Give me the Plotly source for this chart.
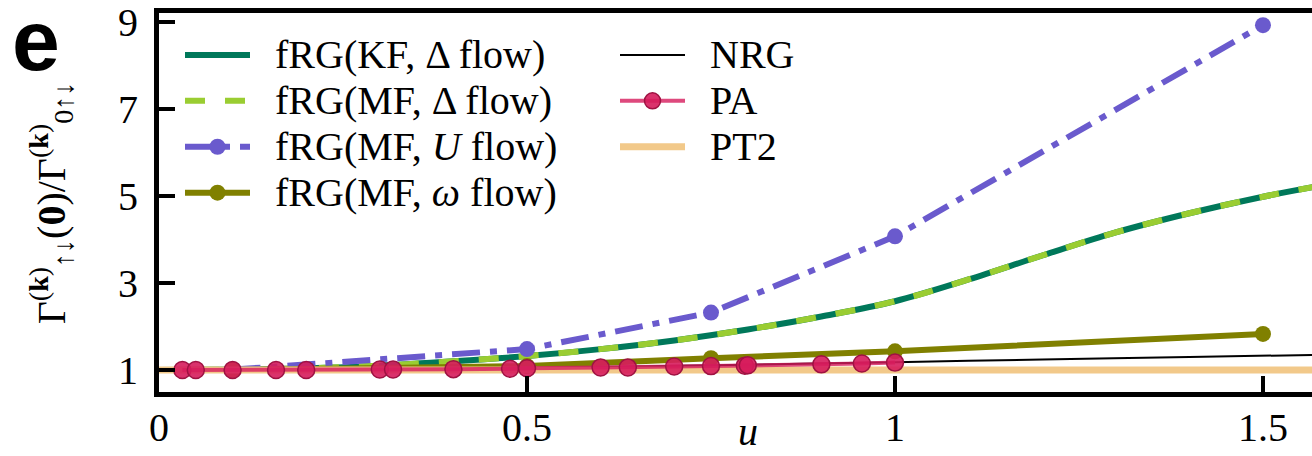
import plotly.graph_objects as go

# interaction strength u
u_kf = [0.0, 0.1, 0.2, 0.3, 0.4, 0.5, 0.6, 0.7, 0.8, 0.9, 1.0, 1.1, 1.2, 1.3, 1.4, 1.5, 1.6]
g_kf = [1.00, 1.01, 1.04, 1.10, 1.20, 1.32, 1.48, 1.68, 1.93, 2.23, 2.58, 3.08, 3.63, 4.16, 4.60, 4.98, 5.30]

u_mf_delta = [0.0, 0.1, 0.2, 0.3, 0.4, 0.5, 0.6, 0.7, 0.8, 0.9, 1.0, 1.1, 1.2, 1.3, 1.4, 1.5, 1.6]
g_mf_delta = [1.00, 1.01, 1.04, 1.10, 1.20, 1.32, 1.48, 1.68, 1.93, 2.23, 2.58, 3.08, 3.63, 4.16, 4.60, 4.98, 5.30]

u_mf_U = [0.1, 0.5, 0.75, 1.0, 1.5]
g_mf_U = [1.01, 1.48, 2.32, 4.07, 8.92]

u_mf_w = [0.1, 0.5, 0.75, 1.0, 1.5]
g_mf_w = [1.00, 1.09, 1.27, 1.43, 1.83]

u_nrg = [0.0, 0.2, 0.4, 0.6, 0.8, 1.0, 1.2, 1.4, 1.6]
g_nrg = [1.00, 1.01, 1.03, 1.07, 1.12, 1.18, 1.24, 1.30, 1.355]

u_pa = [0.0318, 0.05, 0.1, 0.159, 0.2, 0.3, 0.318, 0.4, 0.477, 0.5,
        0.6, 0.637, 0.7, 0.75, 0.796, 0.8, 0.9, 0.955, 1.0]
g_pa = [1.00, 1.00, 1.00, 1.00, 1.00, 1.01, 1.01, 1.02, 1.03, 1.04,
        1.06, 1.06, 1.08, 1.09, 1.10, 1.11, 1.13, 1.15, 1.17]

u_pt2 = [0.0, 0.5, 1.0, 1.5, 1.6]
g_pt2 = [1.0, 1.0, 1.0, 1.0, 1.0]

x_ticks = [0, 0.5, 1, 1.5]
x_ticklabels = ["0", "0.5", "1", "1.5"]
y_ticks = [1, 3, 5, 7, 9]
y_ticklabels = ["1", "3", "5", "7", "9"]

SERIF = "Liberation Serif, Times New Roman, serif"
SANS = "Liberation Sans, Arial, sans-serif"


def entry(label):
    # legend label: a small gap after the symbol, slightly larger type than the row pitch
    return '<span style="font-size:40px">\u2002' + label + '</span>'


fig = go.Figure()

fig.add_trace(go.Scatter(
    x=u_kf, y=g_kf, mode="lines", name=entry("fRG(KF, Δ flow)"),
    line=dict(color="#00785A", width=6, shape="spline"), legend="legend"))
fig.add_trace(go.Scatter(
    x=u_mf_delta, y=g_mf_delta, mode="lines", name=entry("fRG(MF, Δ flow)"),
    line=dict(color="#9ACD32", width=6, dash="20px,20px", shape="spline"), legend="legend"))
fig.add_trace(go.Scatter(
    x=u_mf_U, y=g_mf_U, mode="lines+markers", name=entry("fRG(MF, <i>U</i> flow)"),
    line=dict(color="#6A5ACD", width=6, dash="28px,10px,7px,10px"),
    marker=dict(color="#6A5ACD", size=16), legend="legend"))
fig.add_trace(go.Scatter(
    x=u_mf_w, y=g_mf_w, mode="lines+markers", name=entry("fRG(MF, <i>ω</i> flow)"),
    line=dict(color="#808000", width=6),
    marker=dict(color="#808000", size=16), legend="legend"))
fig.add_trace(go.Scatter(
    x=u_nrg, y=g_nrg, mode="lines", name=entry("NRG"), legendrank=1,
    line=dict(color="black", width=2, shape="spline"), legend="legend2"))
fig.add_trace(go.Scatter(
    x=u_pt2, y=g_pt2, mode="lines", name=entry("PT2"), legendrank=3,
    line=dict(color="#F2C98A", width=7), legend="legend2"))
fig.add_trace(go.Scatter(
    x=u_pa, y=g_pa, mode="lines+markers", name=entry("PA"), legendrank=2,
    line=dict(color="rgba(214,28,92,0.8)", width=4),
    marker=dict(color="rgba(214,28,92,0.9)", size=17,
                line=dict(color="#9E1242", width=1.5)),
    legend="legend2"))

axis_common = dict(
    showgrid=False, zeroline=False, showline=True, linecolor="black", linewidth=5,
    ticks="inside", ticklen=16, tickwidth=4, tickcolor="black",
    tickfont=dict(family=SERIF, size=40, color="black"),
    ticklabeloverflow="allow",
)

legend_common = dict(
    xref="container", yref="container", xanchor="left", yanchor="top",
    bgcolor="rgba(0,0,0,0)", font=dict(family=SERIF, size=33, color="black"),
    itemwidth=65, traceorder="normal",
)

fig.update_layout(
    width=1312, height=456,
    margin=dict(l=159, r=0, t=13, b=64, autoexpand=False),
    paper_bgcolor="white", plot_bgcolor="white",
    xaxis=dict(range=[0, 1.5666], tickvals=x_ticks, ticktext=x_ticklabels,
               mirror=True, ticklabelstandoff=-4, **axis_common),
    yaxis=dict(range=[0.495, 9.2], tickvals=y_ticks, ticktext=y_ticklabels,
               ticklabelstandoff=8, **axis_common),
    legend=dict(x=180 / 1312, y=1 - 27 / 456, **legend_common),
    legend2=dict(x=615 / 1312, y=1 - 27 / 456, **legend_common),
    annotations=[
        dict(text="Γ<sup>(<b>k</b>)</sup><sub>↑↓</sub>(<b>0</b>)/Γ<sup>(<b>k</b>)</sup><sub>0↑↓</sub>",
             xref="paper", yref="paper", x=-0.094, y=0.497, textangle=-90,
             showarrow=False, xanchor="center", yanchor="middle",
             font=dict(family=SERIF, size=40, color="black")),
        dict(text="<i>u</i>", xref="x", yref="paper", x=0.8, y=-0.1675,
             showarrow=False, xanchor="center", yanchor="bottom", borderpad=0,
             font=dict(family=SERIF, size=40, color="black")),
        dict(text="<b>e</b>", xref="paper", yref="paper", x=-0.107, y=0.93,
             showarrow=False, xanchor="center", yanchor="middle",
             font=dict(family=SANS, size=86, color="black")),
    ],
)

fig.write_html("out.html")
